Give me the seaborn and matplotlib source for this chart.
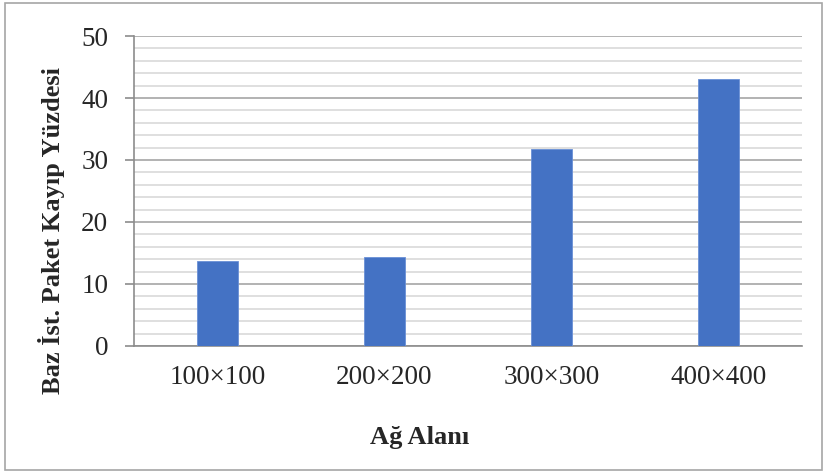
import matplotlib
matplotlib.use("Agg")
import matplotlib.pyplot as plt
import seaborn as sns
from matplotlib.ticker import MultipleLocator
from matplotlib.patches import Rectangle

# Data
areas = ["100×100", "200×200", "300×300", "400×400"]
loss_pct = [13.7, 14.3, 31.7, 43.0]

sns.set_style("white")
plt.rcParams['font.family'] = ['Liberation Serif', 'DejaVu Serif']

fig = plt.figure(figsize=(8.25, 4.72), dpi=100)
ax = fig.add_axes([0.1624, 0.267, 0.8096, 0.6567])

sns.barplot(x=areas, y=loss_pct, color="#4472C4", width=0.25,
            edgecolor="#6a90d6", linewidth=0.6, saturation=1, ax=ax, zorder=3)

# Axis range and grid
ax.set_ylim(0, 50)
ax.set_xlim(-0.5, 3.5)
ax.yaxis.set_major_locator(MultipleLocator(10))
ax.yaxis.set_minor_locator(MultipleLocator(2))
ax.grid(which="major", axis="y", color="#a6a6a6", linewidth=1.2, zorder=0)
ax.grid(which="minor", axis="y", color="#d9d9d9", linewidth=1.2, zorder=0)
ax.set_axisbelow(True)

for s in ["top", "right"]:
    ax.spines[s].set_visible(False)
for s in ["left", "bottom"]:
    ax.spines[s].set_color("#8c8c8c")
    ax.spines[s].set_linewidth(1.2)

ax.tick_params(axis="y", which="major", left=True, length=6.5, width=1.2,
               color="#8c8c8c", labelsize=19.5, pad=12)
ax.tick_params(axis="y", which="minor", left=False)
ax.tick_params(axis="x", bottom=False, labelsize=19.5, pad=10)

ax.set_xlabel("Ağ Alanı", fontsize=19, fontweight="bold", va="center")
ax.set_ylabel("Baz İst. Paket Kayıp Yüzdesi", fontsize=19, fontweight="bold", va="center")
ax.xaxis.set_label_coords(0.427, -0.294)
ax.yaxis.set_label_coords(-0.124, 0.374)

# Outer chart border
fig.patches.append(Rectangle((0.006, 0.004), 0.99, 0.99, transform=fig.transFigure,
                             fill=False, edgecolor="#a6a6a6", linewidth=1.2))

fig.savefig("out.png", dpi=100)
